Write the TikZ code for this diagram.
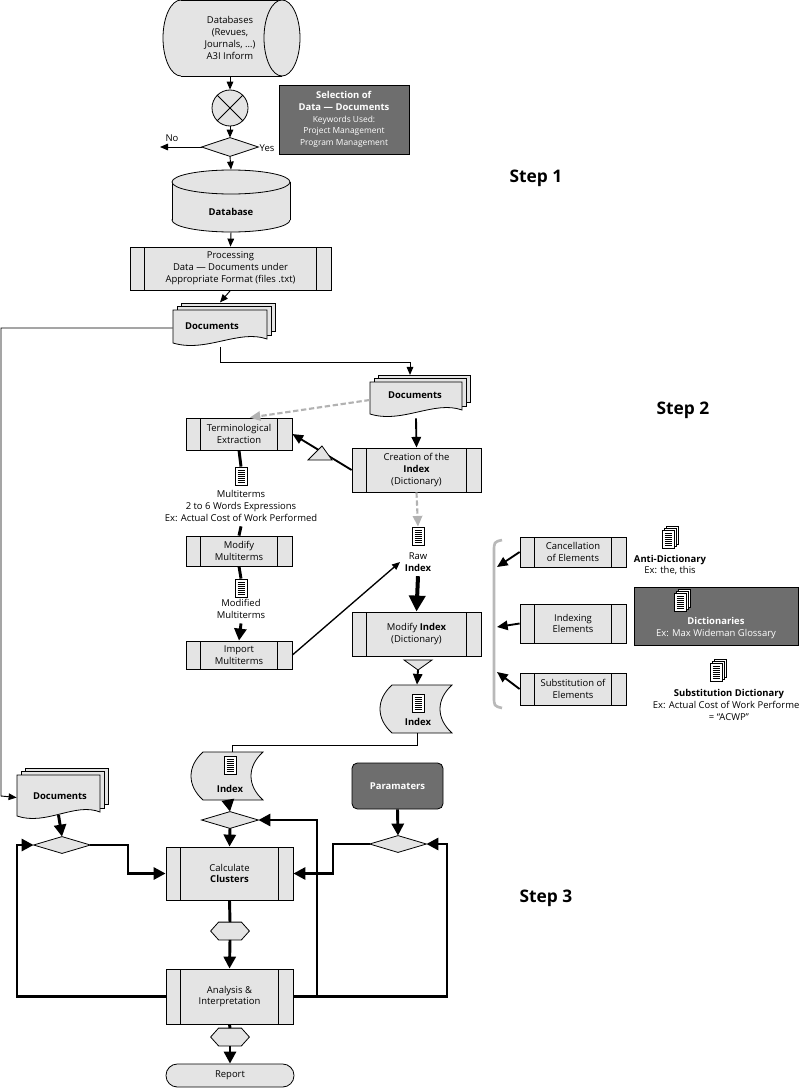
\documentclass[tikz,border=0pt]{standalone}
\usepackage{fontspec}
\setmainfont{Open Sans}
\usetikzlibrary{arrows.meta,shapes.geometric,calc}
\definecolor{lg}{HTML}{E4E4E4}
\definecolor{dk}{HTML}{6E6E6E}
\newcommand\fs{\fontsize{7.1}{8.9}\selectfont}
\newcommand\docic[1]{%
  \draw[fill=white,line width=0.4pt] ($(#1)+(-6,-9)$) rectangle ($(#1)+(6,9)$);
  \foreach \k in {-6,-4,...,6}{\draw[line width=0.4pt] ($(#1)+(-3.5,\k)$) -- ($(#1)+(3.5,\k)$);}}
\newcommand\mdocic[1]{%
  \draw[fill=white,line width=0.4pt] ($(#1)+(-2,-13)$) rectangle ($(#1)+(10,5)$);
  \draw[fill=white,line width=0.4pt] ($(#1)+(-4,-11)$) rectangle ($(#1)+(8,7)$);
  \docic{#1}}
\newcommand\docfront[4]{%
  \begin{scope}[shift={(#1,#2)}]
  \draw[fill=lg] (0,0) -- (#3,0) -- (#3,{#4-8}) .. controls ({0.7*#3},{#4-18}) and ({0.35*#3},{#4+6}) .. (0,{#4-4}) -- cycle;
  \end{scope}}
\newcommand\mdocs[4]{%
  \draw[fill=lg] ({#1+8},{#2-7}) rectangle ({#1+#3+8},{#2+#4-16});
  \draw[fill=lg] ({#1+4},{#2-3.5}) rectangle ({#1+#3+4},{#2+#4-12});
  \docfront{#1}{#2}{#3}{#4}}
\newcommand\tape[4]{%
  \draw[fill=lg] ({#1+10},#2) -- (#3,#2) .. controls ({#3-16},{#2+0.3*(#4-#2)}) and ({#3-16},{#4-0.3*(#4-#2)}) .. (#3,#4)
   -- ({#1+10},#4) .. controls ({#1-6},{#4-0.3*(#4-#2)}) and ({#1-6},{#2+0.3*(#4-#2)}) .. ({#1+10},#2) -- cycle;}
\tikzset{
  wh/.style 2 args={minimum width=#1*0.75pt, minimum height=#2*0.75pt, inner sep=0pt},
  every node/.style={font=\fs, align=center, text=black},
  proc/.style={draw, fill=lg, path picture={
     \draw ([xshift=11pt]path picture bounding box.north west) -- ([xshift=11pt]path picture bounding box.south west);
     \draw ([xshift=-11pt]path picture bounding box.north east) -- ([xshift=-11pt]path picture bounding box.south east);}},
  dark/.style={draw, fill=dk, text=white},
  ar/.style={-{Triangle[length=6pt,width=5pt]}, line width=0.7pt},
  mar/.style={-{Triangle[length=8pt,width=7pt]}, line width=1.4pt},
  tar/.style={-{Triangle[length=9pt,width=9pt]}, line width=2.2pt},
  thk/.style={line width=2.2pt},
  dar/.style={-{Triangle[length=8pt,width=7pt]}, line width=1.6pt, gray!60, dash pattern=on 4pt off 2pt},
  steplbl/.style={font=\bfseries\fontsize{13}{15}\selectfont},
}
\begin{document}
\begin{tikzpicture}[x=0.75pt,y=-0.75pt,line width=0.6pt]
\useasboundingbox (0,0) rectangle (799,1088);
% ---- Step 1
\fill[lg] (181,0) rectangle (282,76);
\draw[fill=lg] (181,38) ellipse [x radius=13.5pt, y radius=28.5pt];
\fill[lg] (181,0) rectangle (282,76);
\draw (181,0) -- (282,0) (181,76) -- (282,76);
\draw[fill=lg] (282,38) ellipse [x radius=13.5pt, y radius=28.5pt];
\node[wh={120}{76}] (dbs) at (230,38) {Databases\\(Revues,\\Journals, …)\\A3I Inform};
\node[circle, draw, fill=lg, minimum size=27pt, inner sep=0] (circ) at (230,108) {};
\draw (circ.45) -- (circ.225) (circ.135) -- (circ.315);
\node[dark, wh={130}{69}] (sel) at (344,119.5) {\textbf{Selection of}\\\textbf{Data — Documents}\\{\fontsize{6.3}{7.6}\selectfont Keywords Used:}\\{\fontsize{6.3}{7.6}\selectfont Project Management}\\{\fontsize{6.3}{7.6}\selectfont Program Management}};
\node[wh={56}{18}] (dia0) at (230,147) {};
\draw[fill=lg] (dia0.west) -- (dia0.north) -- (dia0.east) -- (dia0.south) -- cycle;
\coordinate (no) at (160,147);
\node at (172,138) {No};
\node at (267,148) {Yes};
\draw[ar] (dbs.south) -- (circ.north);
\draw[ar] (circ.south) -- (dia0.north);
\draw[ar] (dia0.west) -- (no);
% Database cylinder
\draw[fill=lg] (231,220) ellipse [x radius=44.25pt, y radius=9pt];
\fill[lg] (172,182) rectangle (290,220);
\draw (172,182) -- (172,220) (290,182) -- (290,220);
\draw[fill=lg] (231,182) ellipse [x radius=44.25pt, y radius=9pt];
\node[wh={118}{62}] (db2) at (231,201) {};
\node at (231,212) {\textbf{Database}};
\draw[ar] (dia0.south) -- (db2.north);
\node[proc, wh={201}{43}] (proc1) at (230.5,268.5) {Processing\\Data — Documents under\\Appropriate Format (files .txt)};
\draw[ar] (db2.south) -- (proc1.north);
\mdocs{173}{310}{94}{37}
\node[wh={94}{37}] (docs1) at (220,328) {};
\node at (212,326) {\textbf{Documents}};
\draw[ar] (proc1.south) -- ([yshift=5pt]docs1.north);
\node[steplbl] at (536,178) {Step 1};
% ---- Step 2
\mdocs{370}{382}{92}{36}
\node[wh={92}{36}] (docs2) at (416,400) {};
\node at (415,395) {\textbf{Documents}};
\draw[ar] (docs1.south) -- (220,362) -| ([xshift=-4.5pt,yshift=5pt]docs2.north);
\node[steplbl] at (683,410) {Step 2};
\node[proc, wh={106}{32}] (term) at (239,434) {Terminological\\Extraction};
\node[proc, wh={129}{44}] (create) at (416.5,470) {Creation of the\\\textbf{Index}\\(Dictionary)};
\draw[dar] (docs2.west) -- ([xshift=8pt]term.north);
\draw[mar] (docs2.south) -- (create.north);
\draw[mar] (create.west) -- (term.east);
\draw[fill=lg] (308,460) -- (322,446) -- (332,460) -- cycle;
\node[wh={12}{18}] (ic1) at (241,476) {};
\docic{ic1}
\node (mt) at (241,506) {Multiterms\\2 to 6 Words Expressions\\Ex: Actual Cost of Work Performed};
\node[proc, wh={106}{30}] (modm) at (239,551) {Modify\\Multiterms};
\node[wh={12}{18}] (ic2) at (241,588) {};
\docic{ic2}
\node (mm) at (241,609) {Modified\\Multiterms};
\node[proc, wh={106}{28}] (imp) at (239,655) {Import\\Multiterms};
\draw[thk] (term.south) -- (ic1.north);
\draw[thk] (mt.south) -- (modm.north);
\draw[thk] (modm.south) -- (ic2.north);
\draw[tar] (mm.south) -- (imp.north);
\node[wh={12}{18}] (rawic) at (418,536) {};
\docic{rawic}
\node (raw) at (418,562) {Raw\\\textbf{Index}};
\draw[dar] (create.south) -- (rawic.north);
\draw[ar, line width=1pt] (imp.east) -- (raw.west);
\node[proc, wh={129}{44}] (modi) at (416.5,634) {Modify \textbf{Index}\\(Dictionary)};
\draw[-{Triangle[length=12pt,width=12pt]}, line width=3pt] (raw.south) -- (modi.north);
\draw[fill=lg] (404,660) -- (432,660) -- (418,670) -- cycle;
\tape{382}{685}{452}{733}
\node[wh={70}{48}] (idx) at (417,709) {};
\node[wh={12}{18}] (idxic) at (418,703) {};
\docic{idxic}
\node at (418,722) {\textbf{Index}};
\draw[mar] (418,670) -- (idx.north);
% bracket
\draw[gray!55, line width=2pt] (502,540) .. controls (494,542) .. (494,552) -- (494,696) .. controls (494,706) .. (502,708);
\node[proc, wh={106}{30}] (canc) at (573,552) {Cancellation\\of Elements};
\node[proc, wh={106}{39}] (idxe) at (573,623.5) {Indexing\\Elements};
\node[proc, wh={106}{32}] (subs) at (573,689) {Substitution of\\Elements};
\coordinate (b1) at (497,567);
\coordinate (b2) at (497,627);
\coordinate (b3) at (497,672);
\draw[mar] (canc.west) -- (b1);
\draw[mar] (idxe.west) -- (b2);
\draw[mar] (subs.west) -- (b3);
\node[wh={12}{18}] (antiic) at (668,539) {};
\mdocic{antiic}
\node at (670,565) {\textbf{Anti-Dictionary}\\Ex: the, this};
\node[dark, wh={164}{58}] (dict) at (716,616) {};
\node[wh={12}{18}] (dictic) at (680,602) {};
\mdocic{dictic}
\node[text=white] at (716,628) {\textbf{Dictionaries}\\Ex: Max Wideman Glossary};
\node[wh={12}{18}] (subic) at (716,672) {};
\mdocic{subic}
\node at (729,705) {\textbf{Substitution Dictionary}\\Ex: Actual Cost of Work Performed\\= “ACWP”};
% ---- Step 3
\node[steplbl] at (546,898) {Step 3};
\draw (idx.south) -- (417,745) -- (232,745) -- (232,752);
\mdocs{17}{775}{83}{45}
\node[wh={83}{45}] (docs3) at (58.5,797.5) {};
\node at (60,796) {\textbf{Documents}};
\draw[ar] (docs1.west) -- (1,328) -- (1,796) -- (docs3.west);
\tape{193}{752}{263}{800}
\node[wh={70}{48}] (idx2) at (228,776) {};
\node[wh={12}{18}] (idx2ic) at (230,765) {};
\docic{idx2ic}
\node at (230,789) {\textbf{Index}};
\node[dark, rounded corners=4pt, wh={91}{46}] (param) at (397.5,786) {\textbf{Paramaters}};
\foreach \n/\x/\y in {d1/62/845, d2/230/820, d3/398/844}{
  \node[wh={56}{16}] (\n) at (\x,\y) {};
  \draw[fill=lg] (\n.west) -- (\n.north) -- (\n.east) -- (\n.south) -- cycle;}
\node[proc, wh={127}{53}] (calc) at (229.5,873.5) {Calculate\\\textbf{Clusters}};
\node[wh={38}{17}] (hx1) at (230,931) {};
\node[proc, wh={127}{55}] (ana) at (229.5,996.5) {Analysis \&\\Interpretation};
\node[wh={38}{17}] (hx2) at (230,1037) {};
\foreach \h in {hx1,hx2}{
  \draw[fill=lg] (\h.west) -- ([xshift=6pt]\h.north west) -- ([xshift=-6pt]\h.north east) -- (\h.east) -- ([xshift=-6pt]\h.south east) -- ([xshift=6pt]\h.south west) -- cycle;}
\node[draw, fill=lg, rounded corners=8.5pt, wh={128}{23}] (rep) at (230,1075.5) {Report};
\draw[tar] ([yshift=4pt]docs3.south) -- (d1.north);
\draw[tar] (idx2.south) -- (d2.north);
\draw[tar] (param.south) -- (d3.north);
\draw[tar] (d2.south) -- (calc.north);
\draw[tar] (d1.east) -- (128,845) -- (128,873.5) -- (calc.west);
\draw[tar] (d3.west) -- (333,844) -- (333,873.5) -- (calc.east);
\draw[thk] (calc.south) -- (hx1.north);
\draw[tar] (hx1.south) -- (ana.north);
\draw[thk] (ana.south) -- (hx2.north);
\draw[tar] (hx2.south) -- (rep.north);
\draw[tar] (ana.west) -- (17,996.5) -- (17,845) -- (d1.west);
\draw[tar] (ana.east) -- (447,996.5) -- (447,844) -- (d3.east);
\draw[tar] (317,996.5) -- (317,820) -- (d2.east);
\end{tikzpicture}
\end{document}
